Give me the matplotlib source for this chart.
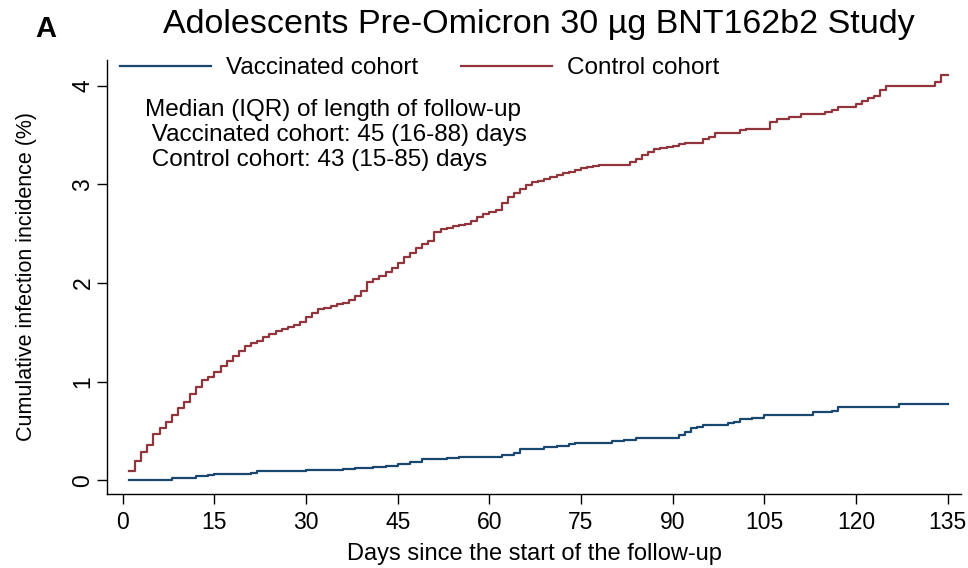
import numpy as np
import matplotlib
matplotlib.use('Agg')
import matplotlib.pyplot as plt

plt.rcParams['font.family'] = ['Liberation Sans', 'DejaVu Sans']

#==============================================================================
# data (day, cumulative incidence %)
ctrl_days = [1, 2, 3, 4, 5, 6, 7, 8, 9, 10, 11, 12, 13, 14, 15, 16, 17, 18, 19, 20,
             21, 22, 23, 24, 25, 26, 27, 28, 29, 30, 31, 32, 33, 34, 35, 36, 37, 38, 39, 40,
             41, 42, 43, 44, 45, 46, 47, 48, 49, 50, 51, 52, 53, 54, 55, 56, 57, 58, 59, 60,
             61, 62, 63, 64, 65, 66, 67, 68, 69, 70, 71, 72, 73, 74, 75, 76, 77, 78,
             83, 84, 85, 86, 87, 88, 89, 90, 91, 92, 95, 96, 97, 101, 102, 106, 107, 109,
             111, 115, 116, 117, 120, 121, 122, 123, 124, 125, 133, 134, 135]
ctrl_vals = [0.10, 0.20, 0.285, 0.36, 0.47, 0.53, 0.59, 0.66, 0.73, 0.79, 0.88, 0.95, 1.02,
             1.05, 1.10, 1.16, 1.21, 1.26, 1.31, 1.36, 1.39, 1.415, 1.45, 1.48, 1.51, 1.53,
             1.55, 1.57, 1.61, 1.66, 1.70, 1.74, 1.75, 1.77, 1.79, 1.80, 1.83, 1.865, 1.92,
             2.01, 2.04, 2.07, 2.11, 2.15, 2.20, 2.26, 2.30, 2.36, 2.40, 2.43, 2.52, 2.545,
             2.56, 2.575, 2.585, 2.60, 2.63, 2.67, 2.70, 2.72, 2.745, 2.81, 2.87, 2.91, 2.95,
             2.99, 3.02, 3.03, 3.05, 3.07, 3.09, 3.11, 3.13, 3.145, 3.17, 3.18, 3.19, 3.20,
             3.23, 3.26, 3.30, 3.33, 3.355, 3.365, 3.38, 3.39, 3.41, 3.42, 3.46, 3.48, 3.52,
             3.55, 3.565, 3.63, 3.66, 3.68, 3.71, 3.73, 3.75, 3.78, 3.81, 3.84, 3.87, 3.90,
             3.96, 4.00, 4.04, 4.11, 4.11]

vacc_days = [1, 8, 11, 12, 14, 15, 19, 21, 22, 30, 36, 38, 41, 43, 45, 47, 49, 53, 55, 58,
             62, 64, 65, 69, 71, 73, 74, 80, 82, 84, 91, 92, 93, 94, 95, 99, 100, 101, 103,
             105, 113, 116, 117, 127, 135]
vacc_vals = [0.005, 0.02, 0.03, 0.045, 0.055, 0.063, 0.07, 0.08, 0.10, 0.105, 0.113, 0.123,
             0.133, 0.15, 0.167, 0.19, 0.215, 0.225, 0.235, 0.24, 0.258, 0.275, 0.32, 0.34,
             0.35, 0.365, 0.38, 0.40, 0.415, 0.43, 0.465, 0.49, 0.53, 0.545, 0.56, 0.58,
             0.595, 0.62, 0.635, 0.66, 0.69, 0.705, 0.74, 0.77, 0.77]

xticks = list(range(0, 136, 15))
yticks = [0, 1, 2, 3, 4]

note_lines = ['Median (IQR) of length of follow-up',
              ' Vaccinated cohort: 45 (16-88) days',
              ' Control cohort: 43 (15-85) days']

blue = '#1a476f'
red = '#90353b'

#==============================================================================
fig = plt.figure(figsize=(9.68, 5.68), dpi=100)
ax = fig.add_axes([0.1105, 0.1303, 0.8823, 0.7641])

ax.step(vacc_days, vacc_vals, where='post', color=blue, linewidth=1.6,
        label='Vaccinated cohort')
ax.step(ctrl_days, ctrl_vals, where='post', color=red, linewidth=1.6,
        label='Control cohort')

ax.set_xlim(-2.6, 137.2)
ax.set_ylim(-0.137, 4.26)
ax.set_xticks(xticks)
ax.set_yticks(yticks)
ax.tick_params(axis='both', labelsize=16.5, length=7, width=1, direction='out')
ax.tick_params(axis='x', pad=5)
ax.tick_params(axis='y', pad=2)
plt.setp(ax.get_yticklabels(), rotation=90, va='center')

for s in ['top', 'right']:
    ax.spines[s].set_visible(False)
for s in ['left', 'bottom']:
    ax.spines[s].set_linewidth(1)

ax.set_xlabel('Days since the start of the follow-up', fontsize=17)
ax.set_ylabel('Cumulative infection incidence (%)', fontsize=15.5)
ax.xaxis.set_label_coords(0.5, -0.112)
ax.yaxis.set_label_coords(-0.082, 0.5)

# legend along the top
ax.legend(loc='upper left', bbox_to_anchor=(120 / 968, 1 - 57 / 568),
          bbox_transform=fig.transFigure, ncol=2, frameon=False, fontsize=17.5,
          handlelength=3.75, handletextpad=0.62, columnspacing=1.75,
          borderpad=0, borderaxespad=0)

# follow-up note
fig.text(145 / 968, 1 - 110 / 568, note_lines[0], fontsize=17.5, va='center', ha='left')
fig.text(145 / 968, 1 - 135 / 568, note_lines[1], fontsize=17.5, va='center', ha='left')
fig.text(145 / 968, 1 - 160 / 568, note_lines[2], fontsize=17.5, va='center', ha='left')

# title and panel letter
fig.text(539 / 968, 1 - 25 / 568, 'Adolescents Pre-Omicron 30 \u00b5g BNT162b2 Study',
         fontsize=24.5, ha='center', va='center')
fig.text(35 / 968, 1 - 29 / 568, 'A', fontsize=21, fontweight='bold',
         ha='left', va='center')

fig.savefig('out.png', dpi=100)
